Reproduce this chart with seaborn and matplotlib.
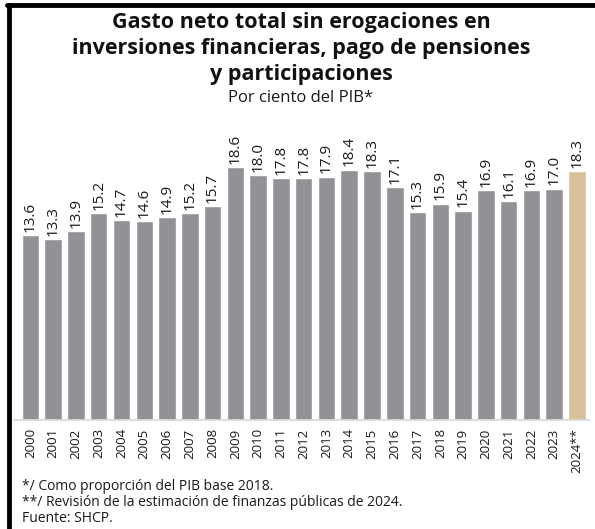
import matplotlib
matplotlib.use("Agg")
import matplotlib.pyplot as plt
import numpy as np
import pandas as pd
import seaborn as sns

# data
years = ["2000", "2001", "2002", "2003", "2004", "2005", "2006", "2007", "2008",
	"2009", "2010", "2011", "2012", "2013", "2014", "2015", "2016", "2017",
	"2018", "2019", "2020", "2021", "2022", "2023", "2024**"]
values = [13.6, 13.3, 13.9, 15.2, 14.7, 14.6, 14.9, 15.2, 15.7,
	18.6, 18.0, 17.8, 17.8, 17.9, 18.4, 18.3, 17.1, 15.3,
	15.9, 15.4, 16.9, 16.1, 16.9, 17.0, 18.3]
title = "Gasto neto total sin erogaciones en\ninversiones financieras, pago de pensiones\ny participaciones"
subtitle = "Por ciento del PIB*"
notes = ["*/ Como proporción del PIB base 2018.",
	"**/ Revisión de la estimación de finanzas públicas de 2024.",
	"Fuente: SHCP."]

GRAY = "#939196"
GOLD = "#d6c19b"
TXT = "#1a1a1a"

sns.set_theme(style="white")
plt.rcParams["font.family"] = ["Open Sans", "DejaVu Sans"]

df = pd.DataFrame({"year": years, "value": values})
palette = [GRAY] * (len(years) - 1) + [GOLD]

fig = plt.figure(figsize=(5.95, 5.29), dpi=100)
W, H = 595, 529
ax = fig.add_axes([14 / W, 1 - 420 / H, (590 - 14) / W, (420 - 130) / H])

sns.barplot(data=df, x="year", y="value", hue="year", palette=palette,
	legend=False, width=0.77, saturation=1, ax=ax)

ax.set_ylim(0, 290 / 13.6)
ax.set_xlim(-0.72, 24.57)
for s in ["top", "right", "left"]:
	ax.spines[s].set_visible(False)
ax.spines["bottom"].set_color("#d9d9d9")
ax.spines["bottom"].set_linewidth(1.2)
ax.set_yticks([])
ax.set_xlabel("")
ax.set_ylabel("")
ax.tick_params(axis="x", length=0, pad=6)
ax.set_xticks(range(len(years)))
ax.set_xticklabels(years, rotation=90, fontsize=9.5, color=TXT)

# value labels above bars
for i, v in enumerate(values):
	ax.text(i, v + 0.25, "%.1f" % v, rotation=90, ha="center", va="bottom",
		fontsize=11, color=TXT)

# titles
cx = 301 / W
fig.text(cx, 1 - 12 / H, title, ha="center", va="top", fontsize=15.5,
	fontweight="bold", linespacing=1.3, color="#111111")
fig.text(cx, 1 - 98 / H, subtitle, ha="center", va="center", fontsize=12,
	color=TXT)

# footnotes
for k, note in enumerate(notes):
	fig.text(22 / W, 1 - (487 + 16 * k) / H, note, ha="left", va="center",
		fontsize=10, color=TXT)

# frame: thick top and left borders
fig.add_artist(plt.Line2D([7 / W, 1], [1 - 5 / H, 1 - 5 / H], color="black", lw=3.5))
fig.add_artist(plt.Line2D([9 / W, 9 / W], [0, 1 - 5 / H], color="black", lw=3.5))

fig.savefig("out.png", dpi=100)
